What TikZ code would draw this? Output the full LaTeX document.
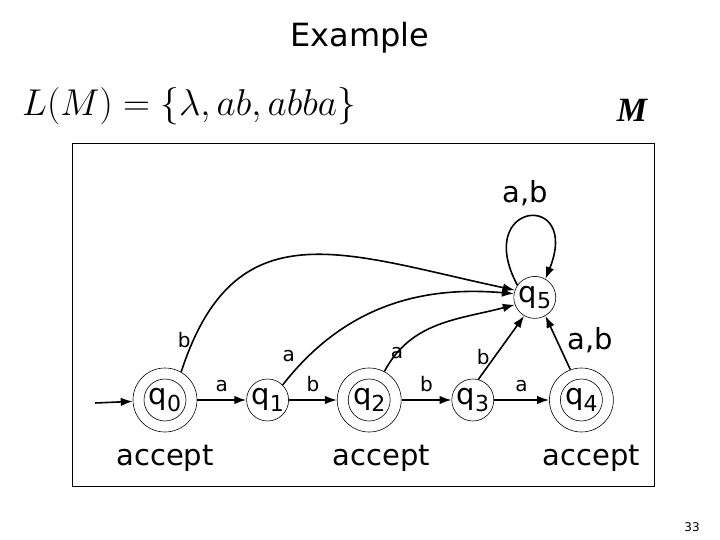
\documentclass[tikz,border=0pt]{standalone}
\usepackage{fontspec}
\setmainfont{DejaVu Sans}
\newfontfamily\serifM{Liberation Serif}
\usetikzlibrary{arrows.meta,positioning}

\newcommand{\qlab}[1]{q\raisebox{-.22em}{\fontsize{22}{22}\selectfont #1}}

\begin{document}
\begin{tikzpicture}[x=1pt,y=-1pt,
  every node/.style={align=center,inner sep=0pt},%
  st/.style={circle,draw,line width=.6pt,minimum size=42pt,
    font=\fontsize{29}{29}\selectfont},%
  acc/.style={st,minimum size=64pt,
    path picture={\draw[line width=.6pt] (path picture bounding box.center) circle (21pt);}},%
  e/.style={-{Latex[length=12pt,width=8.5pt]},line width=1.6pt},%
  lbl/.style={font=\fontsize{20}{20}\selectfont},%
  big/.style={font=\fontsize{29}{29}\selectfont},%
  ]
  \useasboundingbox (0,0) rectangle (720,540);

  \node (title) at (360,38) {\fontsize{32}{32}\selectfont Example};
  \node (lang) [anchor=west] at (22,106) {\scalebox{1.5}{\fontsize{24.88}{26}\selectfont $L(M)=\{\lambda,ab,abba\}$}};
  \node (mname) at (632,110) {\fontsize{34}{34}\selectfont\serifM\bfseries\itshape M};
  \draw[line width=.8pt] (72,143) rectangle (654,486);
  \node (page) at (692,527) {\fontsize{12}{12}\selectfont 33};

  \node (q0) [acc] at (165,400) {\qlab{0}};
  \node (q1) [st,right=49pt of q0] {\qlab{1}};
  \node (q2) [acc,right=48pt of q1] {\qlab{2}};
  \node (q3) [st,right=50pt of q2] {\qlab{3}};
  \node (q4) [acc,right=55pt of q3] {\qlab{4}};
  \node (q5) [st,above=60pt of q3,xshift=62pt] {\qlab{5}};
  \coordinate (start) at (95,403);

  \node (acc0) [below=13pt of q0,big] {accept};
  \node (acc2) [below=13pt of q2,xshift=12pt,big] {accept};
  \node (acc4) [below=13pt of q4,xshift=10pt,big] {accept};

  \draw [e] (start) -- (q0);
  \draw [e] (q0) -- node[above=7pt,lbl] {a} (q1);
  \draw [e] (q1) -- node[above=7pt,lbl] {b} (q2);
  \draw [e] (q2) -- node[above=7pt,lbl] {b} (q3);
  \draw [e] (q3) -- node[above=7pt,lbl] {a} (q4);
  \draw [e] (q4.110) -- node[right=10pt,pos=.55,big] {a,b} (q5.300);
  \draw [e] (q3.75) -- node[pos=.35,left=4pt,lbl] {b} (q5.240);
  \draw [e] (q2.62) to[out=62,in=195] node[pos=.14,lbl] {a} (q5.200);
  \draw [e] (q1.45) to[out=52,in=175] node[pos=.14,left=13pt,lbl] {a} (q5.170);
  \draw [e] (q0.60) to[out=72,in=168,looseness=1.3] node[pos=.07,left=2pt,lbl] {b} (q5.160);
  \draw [e] (q5.145) to[out=118,in=68,looseness=8.5] node[above=10pt,xshift=-3pt,big] {a,b} (q5.60);
\end{tikzpicture}
\end{document}
